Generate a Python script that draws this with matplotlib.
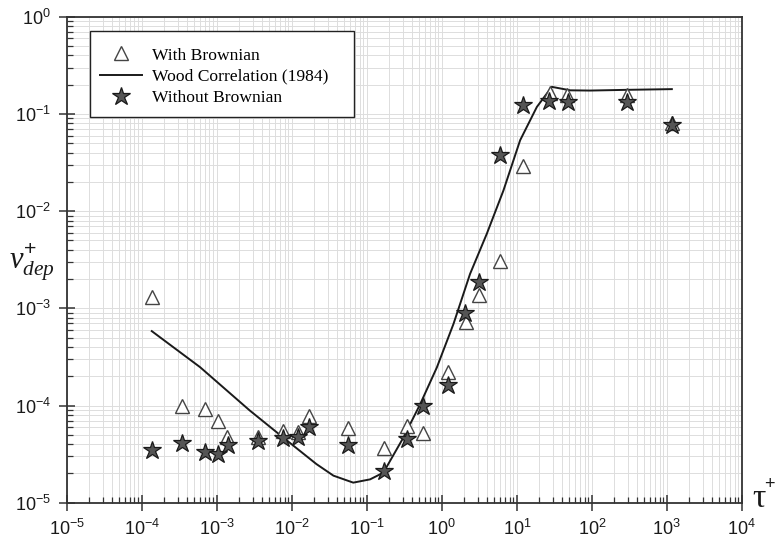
import matplotlib
matplotlib.use("Agg")
import matplotlib.pyplot as plt
from matplotlib.ticker import LogLocator, FuncFormatter, NullFormatter, FixedLocator
from matplotlib.patches import Rectangle
import numpy as np

plt.rcParams['font.family'] = ['Liberation Sans', 'DejaVu Sans']
plt.rcParams['axes.unicode_minus'] = False
plt.rcParams['mathtext.fontset'] = 'custom'
plt.rcParams['mathtext.rm'] = 'Liberation Sans'
plt.rcParams['mathtext.it'] = 'Liberation Serif:italic'
plt.rcParams['mathtext.bf'] = 'Liberation Sans:bold'

# With Brownian (open triangles)
tau_with = [1.36e-4, 3.44e-4, 7.0e-4, 1.04e-3, 1.39e-3, 3.6e-3, 7.6e-3, 0.012, 0.0169,
            0.0564, 0.169, 0.341, 0.569, 1.2, 2.11, 3.17, 5.98, 12.2, 27.8, 46.4, 293, 1166]
v_with = [1.31e-3, 1.0e-4, 9.2e-5, 6.9e-5, 4.7e-5, 4.8e-5, 5.5e-5, 5.3e-5, 7.8e-5,
          5.9e-5, 3.7e-5, 6.2e-5, 5.2e-5, 2.2e-4, 7.3e-4, 1.36e-3, 3.1e-3, 0.0291, 0.163, 0.157, 0.157, 0.080]

# Without Brownian (filled stars)
tau_without = [1.37e-4, 3.44e-4, 7.0e-4, 1.04e-3, 1.42e-3, 3.6e-3, 7.6e-3, 0.012, 0.0169,
               0.0564, 0.169, 0.341, 0.569, 1.2, 2.06, 3.17, 5.98, 12.2, 27.2, 47.5, 293, 1166]
v_without = [3.5e-5, 4.1e-5, 3.3e-5, 3.2e-5, 3.96e-5, 4.36e-5, 4.6e-5, 4.7e-5, 6.0e-5,
             3.9e-5, 2.1e-5, 4.5e-5, 1.0e-4, 1.64e-4, 8.9e-4, 1.88e-3, 0.0378, 0.124, 0.137, 0.132, 0.132, 0.077]

# Wood correlation (1984)
tau_wood = [1.36e-4, 6.0e-4, 2.75e-3, 7.65e-3, 0.0213, 0.0359, 0.066, 0.1107, 0.1663, 0.3076,
            0.514, 0.858, 1.43, 2.38, 3.98, 6.63, 11.07, 18.5, 29.3, 51.4, 94, 293, 1166]
v_wood = [5.83e-4, 2.48e-4, 8.9e-5, 4.7e-5, 2.5e-5, 1.9e-5, 1.61e-5, 1.74e-5, 2.04e-5, 4.68e-5,
          1.03e-4, 2.46e-4, 6.9e-4, 2.26e-3, 5.85e-3, 0.0163, 0.0536, 0.118, 0.19, 0.175, 0.174, 0.177, 0.18]

x_decades = list(range(-5, 5))
y_decades = list(range(-5, 1))

fig = plt.figure(figsize=(7.76, 5.4), dpi=100)
ax = fig.add_axes([0.086, 0.069, 0.870, 0.900])

ax.set_xscale('log')
ax.set_yscale('log')
ax.set_xlim(1e-5, 1e4)
ax.set_ylim(1e-5, 1e0)

h_line, = ax.plot(tau_wood, v_wood, color='#1a1a1a', lw=1.4, zorder=3,
                  solid_joinstyle='round', label='Wood Correlation (1984)')
h_tri, = ax.plot(tau_with, v_with, linestyle='none', marker='^', ms=10, mfc='white',
                 mec='#444444', mew=1.0, zorder=4, label='With Brownian')
h_star, = ax.plot(tau_without, v_without, linestyle='none', marker='*', ms=13.5, mfc='#555555',
                  mec='#1a1a1a', mew=0.9, zorder=5, label='Without Brownian')

# ticks and grid
ax.xaxis.set_major_locator(FixedLocator([10.0 ** k for k in x_decades]))
ax.yaxis.set_major_locator(FixedLocator([10.0 ** k for k in y_decades]))
for axis in (ax.xaxis, ax.yaxis):
    axis.set_minor_locator(LogLocator(base=10, subs=np.arange(2, 10), numticks=20))
    axis.set_minor_formatter(NullFormatter())
ax.grid(True, which='both', color='#dddddd', lw=0.7, zorder=0)
ax.set_axisbelow(True)

fmt = FuncFormatter(lambda v, p: r'$\mathregular{10^{%d}}$' % int(round(np.log10(v))))
ax.xaxis.set_major_formatter(fmt)
ax.yaxis.set_major_formatter(fmt)

ax.tick_params(which='major', direction='inout', length=11, width=1.1, color='#333333',
               labelsize=13, labelcolor='#1a1a1a', top=False, right=False)
ax.tick_params(which='minor', direction='in', length=4.5, width=0.9, color='#333333',
               top=False, right=False)
ax.tick_params(axis='x', which='major', pad=6)
ax.tick_params(axis='y', which='major', pad=6)
for s in ax.spines.values():
    s.set_color('#333333')
    s.set_linewidth(1.3)

# legend box (drawn separately to match its proportions)
box = Rectangle((0.0345, 0.7936), 0.3915, 0.177, transform=ax.transAxes,
                facecolor='white', edgecolor='#222222', lw=1.0, zorder=6)
ax.add_patch(box)
leg = ax.legend(handles=[h_tri, h_line, h_star], loc='upper left',
                bbox_to_anchor=(0.0345, 0.957), borderaxespad=0,
                prop={'family': 'Liberation Serif', 'size': 12.6},
                frameon=False, handlelength=2.4, handletextpad=0.6,
                labelspacing=0.28, borderpad=0.55)
leg.set_zorder(7)

# axis labels
fig.text(0.969, 0.077, 'τ', family='Liberation Serif', fontsize=24, ha='left', va='center', color='#1a1a1a')
fig.text(0.992, 0.103, '+', family='Liberation Sans', fontsize=13, ha='center', va='center', color='#1a1a1a')
fig.text(0.012, 0.515, r'$v^{+}_{dep}$', fontsize=22, ha='left', va='center', color='#1a1a1a')

fig.savefig('out.png', dpi=100)
